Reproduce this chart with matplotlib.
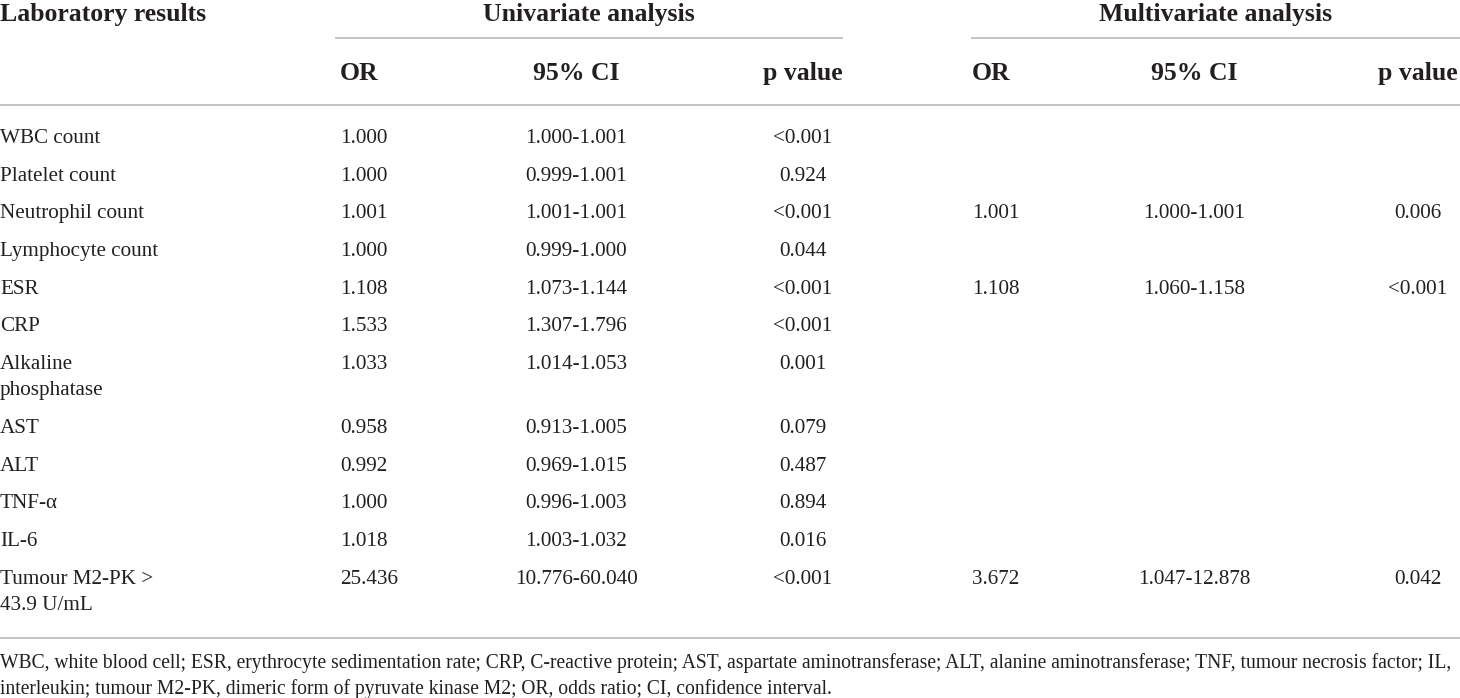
import matplotlib
matplotlib.use("Agg")
import matplotlib.pyplot as plt

plt.rcParams["font.family"] = ["Liberation Serif", "DejaVu Serif"]

# ---- table data ----
labels = [["WBC count"], ["Platelet count"], ["Neutrophil count"], ["Lymphocyte count"],
          ["ESR"], ["CRP"], ["Alkaline", "phosphatase"], ["AST"], ["ALT"], ["TNF-α"],
          ["IL-6"], ["Tumour M2-PK >", "43.9 U/mL"]]
uni_or = ["1.000", "1.000", "1.001", "1.000", "1.108", "1.533", "1.033", "0.958",
          "0.992", "1.000", "1.018", "25.436"]
uni_ci = ["1.000-1.001", "0.999-1.001", "1.001-1.001", "0.999-1.000", "1.073-1.144",
          "1.307-1.796", "1.014-1.053", "0.913-1.005", "0.969-1.015", "0.996-1.003",
          "1.003-1.032", "10.776-60.040"]
uni_p = ["<0.001", "0.924", "<0.001", "0.044", "<0.001", "<0.001", "0.001", "0.079",
         "0.487", "0.894", "0.016", "<0.001"]
multi_or = ["", "", "1.001", "", "1.108", "", "", "", "", "", "", "3.672"]
multi_ci = ["", "", "1.000-1.001", "", "1.060-1.158", "", "", "", "", "", "", "1.047-12.878"]
multi_p = ["", "", "0.006", "", "<0.001", "", "", "", "", "", "", "0.042"]
sub_heads = ["OR", "95% CI", "p value"]
footnote = ["WBC, white blood cell; ESR, erythrocyte sedimentation rate; CRP, C-reactive protein; "
            "AST, aspartate aminotransferase; ALT, alanine aminotransferase; TNF, tumour necrosis factor; IL,",
            "interleukin; tumour M2-PK, dimeric form of pyruvate kinase M2; OR, odds ratio; CI, confidence interval."]

W, H = 1460, 698
TXT = "#231f20"
RULE = "#c4c4c4"
FS_H = 18.5   # header
FS_B = 15.2   # body
FS_F = 14.15  # footnote

fig = plt.figure(figsize=(W / 100, H / 100), dpi=100)
ax = fig.add_axes([0, 0, 1, 1])
ax.set_xlim(0, W); ax.set_ylim(H, 0); ax.axis("off")

def put(x, y, s, ha="left", fs=FS_B, bold=False):
    # y is the centre of the cap height; shift to baseline
    ax.text(x, y + 0.33 * fs * 100 / 72, s, ha=ha, va="baseline", fontsize=fs,
            color=TXT, fontweight="bold" if bold else "normal")

# header
put(0, 13, "Laboratory results", fs=FS_H, bold=True)
put(589, 13, "Univariate analysis", ha="center", fs=FS_H, bold=True)
put(1216, 13, "Multivariate analysis", ha="center", fs=FS_H, bold=True)
ax.plot([335, 843], [38, 38], color=RULE, lw=1.4, solid_capstyle="butt")
ax.plot([971, 1460], [38, 38], color=RULE, lw=1.4, solid_capstyle="butt")

# column anchors: (x, ha)
cols = [(340, "left"), (576, "center"), (803, "center"),
        (972, "left"), (1194, "center"), (1418, "center")]
for k, s in enumerate(sub_heads * 2):
    x, ha = cols[k]
    if k == 2:
        x, ha = 843, "right"
    if k == 5:
        x, ha = 1458, "right"
    put(x, 72, s, ha=ha, fs=FS_H, bold=True)
ax.plot([0, W], [105, 105], color=RULE, lw=1.4)

# body rows
y = 136
step, wrap = 37.7, 26
for i, lab in enumerate(labels):
    for j, line in enumerate(lab):
        put(0, y + j * wrap, line)
    for (x, ha), vals in zip(cols, [uni_or, uni_ci, uni_p, multi_or, multi_ci, multi_p]):
        if vals[i]:
            put(x, y, vals[i], ha=ha)
    y += step + wrap * (len(lab) - 1)

ax.plot([0, W], [638, 638], color=RULE, lw=1.4)
put(0, 662, footnote[0], fs=FS_F)
put(0, 688, footnote[1], fs=FS_F)

fig.savefig("out.png", dpi=100)
